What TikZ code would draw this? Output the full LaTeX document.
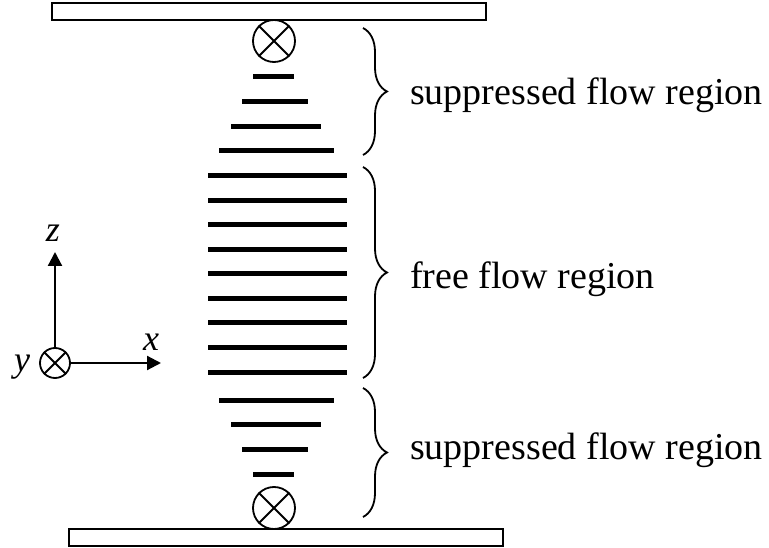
\documentclass[tikz,border=0pt]{standalone}
\usepackage{fontspec}
\setmainfont{Liberation Serif}
\usetikzlibrary{arrows.meta,decorations.pathreplacing}

\tikzset{
  plate/.style={draw, line width=1.8pt},
  layer/.style={line width=5pt},
  intoplane/.style={draw, circle, line width=1.8pt, inner sep=0pt, minimum size=#1},
  regionbrace/.style={draw, line width=1.8pt, decorate,
    decoration={brace, amplitude=24pt, aspect=0.5}},
  regionlabel/.style={anchor=base west, inner sep=0pt,
    font=\fontsize{38}{44}\selectfont},
  axislabel/.style={anchor=base, inner sep=0pt,
    font=\fontsize{36}{40}\selectfont\itshape},
  axis/.style={line width=2.2pt, -{Triangle[length=14pt,width=14pt]}}
}

\begin{document}
\begin{tikzpicture}[x=1pt, y=-1pt]
  \useasboundingbox (0,0) rectangle (769,548);

  % walls
  \draw[plate] (52,3) rectangle (486,20);
  \draw[plate] (69,529) rectangle (503,546);

  % field direction markers next to the walls
  \node[intoplane=42pt] (ctop) at (274,41) {};
  \draw[line width=1.8pt] (ctop.45) -- (ctop.225) (ctop.135) -- (ctop.315);
  \node[intoplane=42pt] (cbot) at (274,508) {};
  \draw[line width=1.8pt] (cbot.45) -- (cbot.225) (cbot.135) -- (cbot.315);

  % flow layers
  \foreach \y/\a/\b in {77/253/294, 102/242/308, 127/231/321, 151/219/334,
                        400/219/334, 424/231/321, 449/242/308, 474/253/294}
    \draw[layer] (\a,\y) -- (\b,\y);
  \foreach \i in {0,...,8}
    \draw[layer] (208,176+24.5*\i) -- (347,176+24.5*\i);

  % region braces
  \coordinate (b1s) at (363,28);  \coordinate (b1e) at (363,155);
  \coordinate (b2s) at (363,167); \coordinate (b2e) at (363,378);
  \coordinate (b3s) at (363,388); \coordinate (b3e) at (363,517);
  \draw[regionbrace] (b1s) -- (b1e);
  \draw[regionbrace] (b2s) -- (b2e);
  \draw[regionbrace] (b3s) -- (b3e);

  \node[regionlabel] (t1) at (410,105) {suppressed flow region};
  \node[regionlabel] (t2) at (410,289) {free flow region};
  \node[regionlabel] (t3) at (410,459) {suppressed flow region};

  % coordinate axes
  \node[intoplane=30pt] (o) at (55,363) {};
  \draw[line width=1.8pt] (o.45) -- (o.225) (o.135) -- (o.315);
  \coordinate (ztip) at (55,252);
  \coordinate (xtip) at (161,363);
  \draw[axis] (o.north) -- (ztip);
  \draw[axis] (o.east) -- (xtip);
  \node[axislabel] (zl) at (53,242) {z};
  \node[axislabel] (xl) at (151,351) {x};
  \node[axislabel] (yl) at (22,371) {y};
\end{tikzpicture}
\end{document}
